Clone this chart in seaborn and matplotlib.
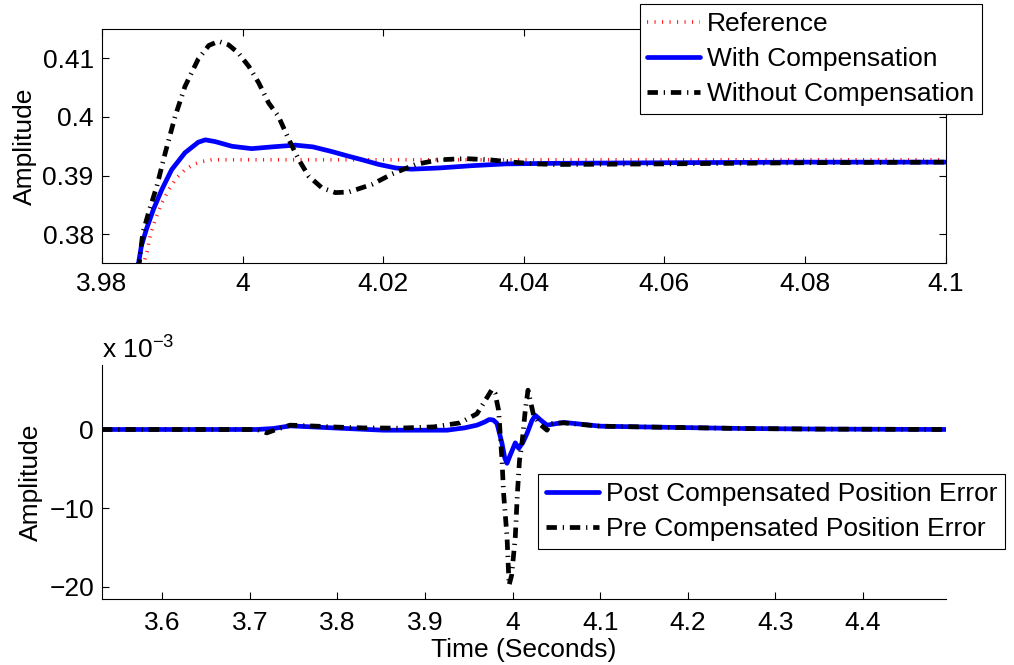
import matplotlib
matplotlib.use("Agg")
import matplotlib.pyplot as plt
from matplotlib.ticker import FixedLocator, FuncFormatter
import pandas as pd
import seaborn as sns

# ---- upper panel: step response around t = 4 s ----
ref_t = [3.9858, 3.9864, 3.9869, 3.9876, 3.9885, 3.9895, 3.9906, 3.9918,
         3.9930, 3.9942, 3.9956, 3.9975, 4.0000, 4.0500, 4.1000]
ref_v = [0.3745, 0.3770, 0.3800, 0.3826, 0.3853, 0.3876, 0.3896, 0.3910,
         0.3919, 0.3924, 0.3927, 0.3927, 0.3927, 0.3927, 0.3927]

comp_t = [3.9849, 3.9852, 3.9856, 3.9863, 3.9873, 3.9885, 3.9899, 3.9918,
          3.9937, 3.9947, 3.9961, 3.9985, 4.0013, 4.0042, 4.0075, 4.0100,
          4.0127, 4.0151, 4.0170, 4.0194, 4.0218, 4.0240, 4.0279, 4.0327,
          4.0374, 4.0446, 4.0600, 4.0800, 4.1000]
comp_v = [0.3745, 0.3751, 0.3780, 0.3808, 0.3842, 0.3876, 0.3910, 0.3939,
          0.3957, 0.3961, 0.3958, 0.3950, 0.3946, 0.3949, 0.3952, 0.3949,
          0.3941, 0.3933, 0.3927, 0.3919, 0.3913, 0.3911, 0.3913, 0.3917,
          0.3920, 0.3921, 0.3922, 0.3923, 0.3923]

nocomp_t = [3.9850, 3.9853, 3.9858, 3.9866, 3.9878, 3.9890, 3.9904, 3.9918,
            3.9937, 3.9952, 3.9966, 3.9980, 3.9994, 4.0009, 4.0023, 4.0037,
            4.0051, 4.0066, 4.0080, 4.0094, 4.0113, 4.0132, 4.0151, 4.0184,
            4.0213, 4.0246, 4.0279, 4.0317, 4.0351, 4.0384, 4.0417, 4.0446,
            4.0600, 4.0800, 4.1000]
nocomp_v = [0.3740, 0.3751, 0.3802, 0.3836, 0.3882, 0.3939, 0.4001, 0.4052,
            0.4099, 0.4122, 0.4129, 0.4123, 0.4109, 0.4086, 0.4058, 0.4024,
            0.4001, 0.3961, 0.3927, 0.3899, 0.3879, 0.3871, 0.3872, 0.3885,
            0.3903, 0.3919, 0.3927, 0.3929, 0.3927, 0.3923, 0.3920, 0.3919,
            0.3920, 0.3922, 0.3923]

top_xticks = [3.98, 4.00, 4.02, 4.04, 4.06, 4.08, 4.10]
top_yticks = [0.38, 0.39, 0.40, 0.41]

# ---- lower panel: position error (units of 1e-3) ----
post_t = [3.531, 3.708, 3.727, 3.746, 3.7954, 3.8526, 3.925, 3.9450,
          3.9593, 3.9680, 3.9733, 3.9780, 3.9822, 3.9879, 3.9910, 3.9936,
          3.9975, 4.0031, 4.0070, 4.0120, 4.0165, 4.0220, 4.0260, 4.0320,
          4.0393, 4.0583, 4.1002, 4.146, 4.26, 4.35, 4.4945]
post_v = [0.0, 0.0, 0.13, 0.46, 0.20, -0.09, -0.09, 0.20,
          0.55, 0.95, 1.27, 1.20, 0.76, -1.78, -3.60, -4.30,
          -3.20, -1.70, -2.40, -1.60, -0.50, 1.10, 1.80, 1.20,
          0.55, 0.90, 0.42, 0.33, 0.13, 0.05, 0.0]

pre_t = [3.531, 3.700, 3.708, 3.7193, 3.730, 3.746, 3.7765, 3.800,
         3.830, 3.870, 3.910, 3.940, 3.9593, 3.9688, 3.9765, 3.9800,
         3.9840, 3.9879, 3.9897, 3.9936, 3.9960, 3.9990, 4.0031, 4.0055,
         4.0079, 4.0107, 4.0145, 4.0176, 4.0240, 4.0320, 4.0393, 4.0430,
         4.0583, 4.1000, 4.146, 4.26, 4.35, 4.4945]
pre_v = [0.0, 0.0, 0.0, -0.43, 0.0, 0.55, 0.42, 0.30,
         0.20, 0.17, 0.33, 0.84, 2.00, 3.70, 5.10, 4.60,
         2.45, -3.90, -8.10, -13.60, -19.80, -18.50, -13.60, -8.10,
         -3.90, -1.78, 2.45, 5.00, 1.80, 0.60, -0.09, 0.76,
         0.84, 0.42, 0.33, 0.13, 0.05, 0.0]

bot_xticks = [3.6, 3.7, 3.8, 3.9, 4.0, 4.1, 4.2, 4.3, 4.4]
bot_yticks = [-20, -10, 0]
err_scale = 1e-3

sns.set_theme(style="ticks")
plt.rcParams.update({
    "font.family": ["Liberation Sans", "DejaVu Sans"],
    "mathtext.fontset": "custom",
    "mathtext.rm": "Liberation Sans",
    "mathtext.it": "Liberation Sans:italic",
    "mathtext.default": "regular",
    "lines.scale_dashes": False,
    "axes.edgecolor": "black",
    "axes.linewidth": 0.8,
    "xtick.color": "black",
    "ytick.color": "black",
    "text.color": "black",
    "axes.labelcolor": "black",
})

FS = 19
LW = 3.4
dash_dot = (0, (7.5, 4.2, 0.9, 4.2))
red_dots = (0, (0.8, 4.6))


def fmt_g(v, _pos):
    return "%g" % round(v, 6)


fig = plt.figure(figsize=(10.14, 6.65), dpi=100)
ax1 = fig.add_axes([0.1006, 0.6045, 0.8319, 0.3519])
ax2 = fig.add_axes([0.1009, 0.0988, 0.8316, 0.3523])

legend_kw = dict(borderaxespad=0, fontsize=FS, handlelength=2.0,
                 handletextpad=0.25, borderpad=0.3, labelspacing=0.42,
                 fancybox=False, framealpha=1, edgecolor="black")

# upper panel
sns.lineplot(data=pd.DataFrame({"t": ref_t, "v": ref_v}), x="t", y="v", ax=ax1,
             color="#ff1a1a", lw=2.6, linestyle=red_dots, label="Reference",
             errorbar=None, sort=False)
sns.lineplot(data=pd.DataFrame({"t": comp_t, "v": comp_v}), x="t", y="v", ax=ax1,
             color="#0000ff", lw=LW, label="With Compensation",
             errorbar=None, sort=False)
sns.lineplot(data=pd.DataFrame({"t": nocomp_t, "v": nocomp_v}), x="t", y="v", ax=ax1,
             color="black", lw=LW, linestyle=dash_dot, label="Without Compensation",
             errorbar=None, sort=False)
ax1.set_xlim(3.98, 4.10)
ax1.set_ylim(0.3751, 0.4150)
ax1.xaxis.set_major_locator(FixedLocator(top_xticks))
ax1.yaxis.set_major_locator(FixedLocator(top_yticks))
ax1.xaxis.set_major_formatter(FuncFormatter(fmt_g))
ax1.yaxis.set_major_formatter(FuncFormatter(fmt_g))
ax1.tick_params(direction="in", length=5, width=0.8, labelsize=FS,
                top=True, right=True)
ax1.tick_params(axis="x", pad=6.5)
ax1.tick_params(axis="y", pad=6)
ax1.set_xlabel("")
ax1.set_ylabel("Amplitude", fontsize=FS)
ax1.yaxis.set_label_coords(-0.077, 0.5)
leg1 = ax1.legend(loc="upper right", bbox_to_anchor=(982 / 1014, 1 - 4 / 665),
                  bbox_transform=fig.transFigure, **legend_kw)
leg1.get_frame().set_linewidth(0.8)

# lower panel
sns.lineplot(x=post_t, y=[v * err_scale for v in post_v], ax=ax2,
             color="#0000ff", lw=LW, label="Post Compensated Position Error",
             errorbar=None, sort=False)
sns.lineplot(x=pre_t, y=[v * err_scale for v in pre_v], ax=ax2,
             color="black", lw=LW, linestyle=dash_dot,
             label="Pre Compensated Position Error", errorbar=None, sort=False)
ax2.set_xlim(3.5314, 4.4945)
ax2.set_ylim(-21.6 * err_scale, 8.2 * err_scale)
ax2.xaxis.set_major_locator(FixedLocator(bot_xticks))
ax2.yaxis.set_major_locator(FixedLocator([v * err_scale for v in bot_yticks]))
ax2.xaxis.set_major_formatter(FuncFormatter(fmt_g))
ax2.yaxis.set_major_formatter(
    FuncFormatter(lambda v, p: ("%g" % round(v / err_scale, 6)).replace("-", "\u2212")))
ax2.spines["top"].set_visible(False)
ax2.spines["right"].set_visible(False)
ax2.tick_params(direction="in", length=5, width=0.8, labelsize=FS,
                top=False, right=False)
ax2.tick_params(axis="x", pad=8.5)
ax2.tick_params(axis="y", pad=6)
ax2.set_xlabel("Time (Seconds)", fontsize=FS)
ax2.xaxis.set_label_coords(0.5, -0.165)
ax2.set_ylabel("Amplitude", fontsize=FS)
ax2.yaxis.set_label_coords(-0.070, 0.5)
ax2.text(0.0, 1.006, r"x 10$^{-3}$", transform=ax2.transAxes, fontsize=FS,
         ha="left", va="bottom")
leg2 = ax2.legend(loc="upper right", bbox_to_anchor=(1005 / 1014, 1 - 474 / 665),
                  bbox_transform=fig.transFigure, **legend_kw)
leg2.get_frame().set_linewidth(0.8)

fig.savefig("out.png", dpi=100)
